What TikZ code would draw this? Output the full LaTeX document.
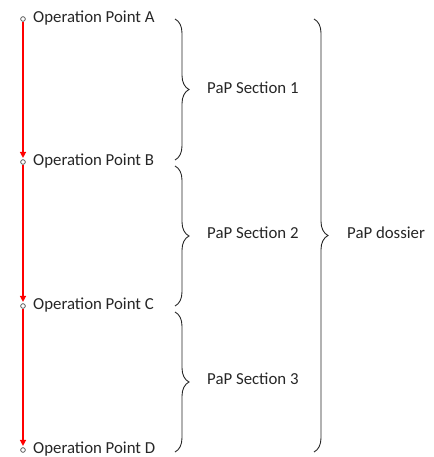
\documentclass[tikz,border=0pt]{standalone}
\usepackage{fontspec}
\setmainfont{Carlito}
\usetikzlibrary{decorations.pathreplacing,arrows.meta}
\begin{document}
\begin{tikzpicture}[x=1pt,y=-1pt,
  opt/.style={circle,draw=black!60,fill=white,inner sep=0pt,minimum size=4.5pt,line width=0.7pt},
  lbl/.style={anchor=west,inner sep=0pt,font=\fontsize{16.8}{18}\selectfont,text=black!85},
  redline/.style={draw=red,line width=1.8pt,-{Triangle[length=6pt,width=6pt]},shorten >=1.5pt,shorten <=0pt},
  bracestyle/.style={decorate,decoration={brace,amplitude=14pt,aspect=0.5},line width=0.9pt,draw=black!85}]
\useasboundingbox (0,0) rectangle (433,457);
\node[opt] (A) at (23,19) {};
\node[opt] (B) at (23,162) {};
\node[opt] (C) at (23,306) {};
\node[opt] (D) at (23,450) {};
\draw[redline] (A) -- (B);
\draw[redline] (B) -- (C);
\draw[redline] (C) -- (D);
\node[opt] at (A) {};
\node[opt] at (B) {};
\node[opt] at (C) {};
\node[opt] at (D) {};
\node[lbl] (tA) at (33,18) {Operation Point A};
\node[lbl] (tB) at (33,161) {Operation Point B};
\node[lbl] (tC) at (33,305) {Operation Point C};
\node[lbl] (tD) at (33,449) {Operation Point D};
\coordinate (s1t) at (175,19);
\coordinate (s1b) at (175,160);
\coordinate (s2t) at (175,166);
\coordinate (s2b) at (175,306);
\coordinate (s3t) at (175,312);
\coordinate (s3b) at (175,452);
\coordinate (dt) at (314,19);
\coordinate (db) at (314,452);
\draw[bracestyle] (s1t) -- (s1b);
\draw[bracestyle] (s2t) -- (s2b);
\draw[bracestyle] (s3t) -- (s3b);
\draw[bracestyle] (dt) -- (db);
\node[lbl] (l1) at (207,88) {PaP Section 1};
\node[lbl] (l2) at (207,233) {PaP Section 2};
\node[lbl] (l3) at (207,379) {PaP Section 3};
\node[lbl] (l4) at (347,233) {PaP dossier};
\end{tikzpicture}
\end{document}
